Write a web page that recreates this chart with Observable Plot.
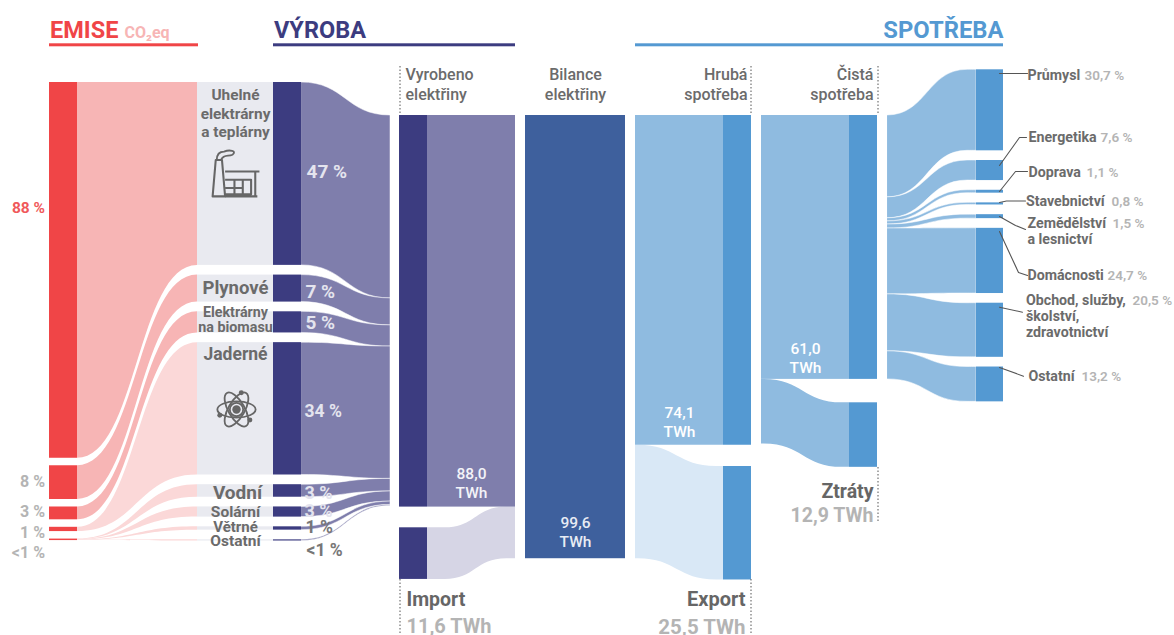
<!DOCTYPE html>
<html lang="cs">
<head>
<meta charset="utf-8">
<title>Emise, výroba a spotřeba elektřiny</title>
<script src="https://cdn.jsdelivr.net/npm/d3@7"></script>
<script src="https://cdn.jsdelivr.net/npm/@observablehq/plot@0.6"></script>
<style>
html,body{margin:0;padding:0;background:#fff;overflow:hidden}
svg{display:block}
</style>
</head>
<body>
<div id="chart"></div>
<script>
// ---------- DATA ----------
const emissionShares = [88, 7.9, 3.0, 1.0, 0.35];           // % of emissions
const emissionLabels = ["88 %", "8 %", "3 %", "1 %", "<1 %"];
const sources = ["Uhelné\nelektrárny\na teplárny", "Plynové", "Elektrárny\nna biomasu", "Jaderné", "Vodní", "Solární", "Větrné", "Ostatní"];
const sourceShares = [46.7, 6.9, 5.4, 33.8, 3.2, 2.6, 0.85, 0.3]; // % of generated electricity, as drawn
const sourceLabels = ["47 %", "7 %", "5 %", "34 %", "3 %", "3 %", "1 %", "<1 %"];
const smallEmissionSplit = [0.14, 0.1, 0.06, 0.05];          // how "<1 %" divides among the last four sources
const generated = 88.0, imported = 11.6, balance = 99.6, grossUse = 74.1, exported = 25.5;
const netDrawn = 59.3, lossDrawn = 14.5;                     // TWh as drawn
const netText = "61,0", lossText = "12,9 TWh";
const sectors = ["Průmysl", "Energetika", "Doprava", "Stavebnictví", "Zemědělství\na lesnictví", "Domácnosti", "Obchod, služby,\nškolství,\nzdravotnictví", "Ostatní"];
const sectorShares = [30.7, 7.6, 1.1, 0.8, 1.5, 24.7, 20.5, 13.2];
const sectorShareText = ["30,7 %", "7,6 %", "1,1 %", "0,8 %", "1,5 %", "24,7 %", "20,5 %", "13,2 %"];
const netSplit = [18.4, 4.7, 0.7, 0.7, 0.9, 14.8, 12.8, 6.3]; // TWh at the left edge of the last ribbon

// ---------- LAYOUT ----------
const W = 1174, H = 635, pxPerTWh = 4.45, baseTop = 115;
const Y = p => (p - baseTop) / pxPerTWh;          // layout pixel row -> y-scale value (TWh)
const gapT = p => p / pxPerTWh;
const col = {red:[49,77], redFlow:[77,197], grey:[197,273], gen:[273,301], genFlow:[301,390],
  prodDark:[399,427], prodFlow:[427,515], bal:[525,625], gross:[635,723], grossDark:[723,751],
  net:[761,849], netDark:[849,877], sect:[887,976], sectDark:[976,1003]};
const c = {red:"#F04547", redL:"#F7B5B5", redLL:"#FBD8D8", grey:"#E9EAF0", navy:"#3C3C80", purple:"#7F7EAC",
  imp:"#D6D5E5", bal:"#3E609D", blueL:"#8FBBE0", blue:"#5499D2", exp:"#D9E8F6",
  txt:"#6B6B6B", txtL:"#B4B4B4", white:"#FFFFFF", onPurple:"#E4E4EE"};

function stack(values, start, gap){
  let y = start; const out = [];
  for (const v of values){ out.push([y, y + v]); y += v + gap; }
  return out;
}
const emisPerPct = 4.27 / pxPerTWh;
const emisStack = stack(emissionShares.map(v => v * emisPerPct), Y(82), gapT(7.5));
const genStack = stack(sourceShares.map(v => v * generated / 100), Y(82), gapT(9.7));
const genEnd = stack(sourceShares.map(v => v * generated / 100), 0, 0);
const sectStack = stack(sectorShares.map(v => v * netDrawn / 100), Y(69.3), gapT(9.7));
const sectLeft = stack(netSplit, 0, 0);

// ---------- RECTS ----------
const rects = [];
const R = (cx, [y1, y2], fill) => rects.push({x1: cx[0], x2: cx[1], y1, y2, fill});
emisStack.forEach(s => R(col.red, s, c.red));
genStack.forEach(s => { R(col.grey, s, c.grey); R(col.gen, s, c.navy); });
R(col.prodDark, [0, generated], c.navy);
R(col.prodFlow, [0, generated], c.purple);
const impY = Y(527.3);
R(col.prodDark, [impY, impY + imported], c.navy);
R(col.bal, [0, balance], c.bal);
R(col.gross, [0, grossUse], c.blueL);
R(col.grossDark, [0, grossUse], c.blue);
const expY = Y(466);
R(col.grossDark, [expY, expY + exported], c.blue);
R(col.net, [0, netDrawn], c.blueL);
R(col.netDark, [0, netDrawn], c.blue);
const lossY = Y(402.3);
R(col.netDark, [lossY, lossY + lossDrawn], c.blue);
sectStack.forEach(s => R(col.sectDark, s, c.blue));

// ---------- RIBBONS ----------
const flows = []; let fid = 0;
function ribbon([x0, x1], a, b, fill, lead = 0, tail = 1, seam = false){
  const id = fid++, dx = x1 - x0;
  const pts = [[x0, a]];
  if (lead > 0) pts.push([x0 + lead * dx, a]);
  if (tail < 1) pts.push([x0 + tail * dx, b]);
  pts.push([x1, b]);
  pts.forEach(([x, s]) => flows.push({id, x, y1: s[0], y2: s[1], fill, seam}));
}
// emission -> source
[0,1,2].forEach(i => ribbon(col.redFlow, emisStack[i], genStack[i], c.redL));
ribbon(col.redFlow, emisStack[3], genStack[3], c.redLL);
let e = emisStack[4][0];
smallEmissionSplit.forEach((s, i) => {
  const h = s * emisPerPct;
  ribbon(col.redFlow, [e, e + h], genStack[4 + i], c.redLL); e += h;
});
// source -> generated column
genStack.forEach((s, i) => ribbon(col.genFlow, s, genEnd[i], c.purple, 0, 1, true));
// import, export, losses
ribbon(col.prodFlow, [impY, impY + imported], [generated, balance], c.imp, 0.2, 0.9);
ribbon(col.gross, [grossUse, balance], [expY, expY + exported], c.exp, 0.03, 0.92);
ribbon(col.net, [netDrawn, netDrawn + lossDrawn], [lossY, lossY + lossDrawn], c.blueL, 0.03, 0.92);
// net -> sectors
sectLeft.forEach((s, i) => ribbon(col.sect, s, sectStack[i], c.blueL, 0, 0.9, true));

// ---------- TEXT ----------
const texts = [];
const T = (text, x, py, size, fill, anchor = "start", weight = 700, lh) =>
  texts.push({text, x, y: Y(py - 1), size, fill, anchor, weight, lh});
// headers
T("EMISE", 49.5, 28.5, 23.5, c.red);
T("CO₂eq", 124, 32, 16, c.redL);
T("VÝROBA", 273.5, 28.5, 23.5, c.navy);
T("SPOTŘEBA", 1003, 28.5, 23.8, c.blue, "end");
// emissions
const emisRow = [207, 481, 511, 532, 552];
emissionLabels.forEach((s, i) => T(s, 44.5, emisRow[i], i ? 16 : 15.5, i ? c.txtL : "#F0595B", "end"));
// sources
const srcPos = [[235, 113.4, 15.4, 1.19], [235, 287, 18.5], [235, 320.5, 14.3, 1.05], [235, 353, 17.5], [237, 491.5, 19], [235, 511, 15.5], [235, 526, 15], [235, 540.5, 15.5]];
sources.forEach((s, i) => T(s, srcPos[i][0], srcPos[i][1], srcPos[i][2], c.txt, "middle", 700, srcPos[i][3]));
// source shares
const pctPos = [[306, 171, 19], [305, 291, 19], [305, 322, 19], [304, 410, 17.5], [304, 492, 18], [304, 510, 18], [305, 526, 17.5], [306, 549, 17.5]];
sourceLabels.forEach((s, i) => T(s, pctPos[i][0], pctPos[i][1], pctPos[i][2], i < 6 ? c.onPurple : "#777777"));
// column heads
T("Vyrobeno\nelektřiny", 405, 84, 16, c.txt, "start", 500, 1.25);
T("Bilance\nelektřiny", 575, 84, 16, c.txt, "middle", 500, 1.25);
T("Hrubá\nspotřeba", 747, 84, 16, c.txt, "end", 500, 1.25);
T("Čistá\nspotřeba", 873, 84, 16, c.txt, "end", 500, 1.25);
// in-bar values
const tw = v => String(v.toFixed(1)).replace(".", ",") + "\nTWh";
T(tw(generated), 471, 482.5, 15.5, "#F3F3F8", "middle", 500, 1.23);
T(tw(balance), 575, 531.5, 15.5, "#E8ECF4", "middle", 500, 1.23);
T(tw(grossUse), 679, 421.5, 15.5, "#FFFFFF", "middle", 500, 1.23);
T(netText + "\nTWh", 805, 357.5, 15.5, "#FFFFFF", "middle", 500, 1.23);
// bottom labels
T("Import", 406, 598, 19.5, "#666666");
T(String(imported).replace(".", ",") + " TWh", 406, 625.5, 20, c.txtL);
T("Export", 745, 598, 20, "#666666", "end");
T(String(exported).replace(".", ",") + " TWh", 745, 625.5, 20.5, c.txtL, "end");
T("Ztráty", 873, 490, 19.5, "#666666", "end");
T(lossText, 873, 514, 19.5, c.txtL, "end");
// sector labels
const secPos = [[1027,75,1084],[1028,136.5,1100],[1028,172,1086],[1025.5,200.7,1111],[1027,222.5,1112],[1027,275,1107],[1025.5,300,1132],[1028,375.5,1081]];
const secLH = [0,0,0,0,16.5,0,16,0];
sectors.forEach((s, i) => {
  const lines = s.split("\n");
  lines.forEach((l, j) => T(l, secPos[i][0], secPos[i][1] + j * secLH[i], 14.2, c.txt));
  T(sectorShareText[i], secPos[i][2], secPos[i][1], 13.5, c.txtL, "start", 600);
});

// ---------- LEADERS ----------
const leaderTo = [[1027,73,null],[1026,137,1019],[1027,171,1015],[1025,200.5,1006],[1025,229,1015],[1027,275,1018],[1022,311.7,null],[1023,375.7,null]];
const leaderFrom = [73,165,191,202,216,231,306.7,367];
const leaders = [];
leaderTo.forEach(([xe, ye, xm], i) => {
  leaders.push({id:i, x:999, y:Y(leaderFrom[i])});
  if (xm !== null){
    const ym = i === 4 ? 225 : i === 5 ? 272 : ye;
    leaders.push({id:i, x:xm, y:Y(ym)});
  }
  leaders.push({id:i, x:xe, y:Y(ye)});
});

// ---------- DOTTED GUIDES ----------
const guides = [
  {x:399.5, a:66, b:115}, {x:399.5, a:579, b:635},
  {x:750.5, a:66, b:115}, {x:750.5, a:579, b:635},
  {x:877.5, a:66, b:115}, {x:877.5, a:467, b:523}
];

// ---------- HEADER RULES ----------
const rules = [
  {x1:49, x2:198, fill:c.red}, {x1:273, x2:515, fill:c.navy}, {x1:635, x2:1003, fill:c.blue}
].map(d => ({...d, y1:Y(43.3), y2:Y(46.3)}));

// ---------- ICONS ----------
const factorySvg = `<svg xmlns="http://www.w3.org/2000/svg" viewBox="0 0 50 48"><g fill="none" stroke="#666" stroke-width="2" stroke-linejoin="round">
<path d="M3 46 L6 11 L12 11 L15 46 Z"/><path d="M15 22 H48 M44 22 V46 M15 46 H46 M15 30 H40 V44 H15 M24 30 V44 M32 30 V44 M15 38 H32" />
<path d="M7 11 C7 5 10 3 14 3 C19 1 27 2 22 6 C18 8 14 5 11 11" stroke-width="1.8"/></g></svg>`;
const atomSvg = `<svg xmlns="http://www.w3.org/2000/svg" viewBox="0 0 44 46"><g fill="none" stroke="#666" stroke-width="1.9">
<ellipse cx="22" cy="23" rx="20" ry="8.5"/><ellipse cx="22" cy="23" rx="20" ry="8.5" transform="rotate(60 22 23)"/><ellipse cx="22" cy="23" rx="20" ry="8.5" transform="rotate(-60 22 23)"/>
<circle cx="22" cy="23" r="7"/></g><g fill="#666"><circle cx="22" cy="23" r="4.4"/><circle cx="27" cy="5.5" r="2.6"/><circle cx="36" cy="34" r="2.6"/><circle cx="4.5" cy="29" r="2.6"/></g></svg>`;
const uri = s => "data:image/svg+xml," + encodeURIComponent(s);
const icons = [
  {src: uri(factorySvg), x: 235, y: Y(173), w: 52},
  {src: uri(atomSvg), x: 236, y: Y(409), w: 44}
];

// ---------- CHART ----------
const textMarks = d3.groups(texts, d => [d.size, d.fill, d.anchor, d.weight, d.lh].join("|")).map(([, g]) =>
  Plot.text(g, {x:"x", y:"y", text:"text", fontSize:g[0].size, fill:g[0].fill, textAnchor:g[0].anchor,
    fontWeight:g[0].weight, lineAnchor:"middle", lineHeight:g[0].lh || 1.3}));

const chart = Plot.plot({
  width: W, height: H, margin: 0,
  style: {fontFamily: "Roboto, sans-serif", background: "#fff"},
  x: {domain: [0, W], range: [0, W], axis: null},
  y: {domain: [Y(0), Y(H)], range: [0, H], axis: null},
  color: {type: "identity"},
  marks: [
    Plot.area(flows.filter(d => !d.seam), {x1:"x", y1:"y1", y2:"y2", z:"id", fill:"fill", curve:"bump-x"}),
    Plot.area(flows.filter(d => d.seam), {x1:"x", y1:"y1", y2:"y2", z:"id", fill:"fill", stroke:"#fff", strokeWidth:0.5, curve:"bump-x"}),
    Plot.rect(rects, {x1:"x1", x2:"x2", y1:"y1", y2:"y2", fill:"fill"}),
    Plot.rect(rules, {x1:"x1", x2:"x2", y1:"y1", y2:"y2", fill:"fill"}),
    Plot.ruleX(guides, {x:"x", y1:d => Y(d.a), y2:d => Y(d.b), stroke:"#555", strokeWidth:1, strokeDasharray:"1.5,2"}),
    Plot.line(leaders, {x:"x", y:"y", z:"id", stroke:"#555", strokeWidth:1.1}),
    Plot.image(icons, {x:"x", y:"y", src:"src", width:d => d.w, height:d => d.w}),
    ...textMarks
  ]
});
document.getElementById("chart").append(chart);
</script>
</body>
</html>
